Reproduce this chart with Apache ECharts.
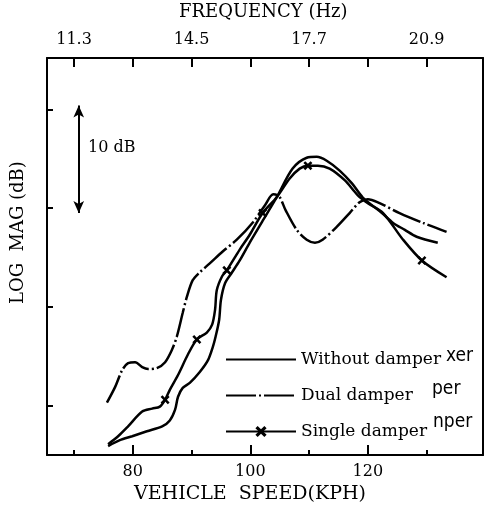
<!DOCTYPE html>
<html><head><meta charset="utf-8">
<script src="https://cdn.jsdelivr.net/npm/echarts@6/dist/echarts.min.js"></script>
<style>html,body{margin:0;padding:0;background:#fff}#c{width:489px;height:516px}</style>
</head><body><div id="c"></div>
<script>
// ---- data ----
const withoutSpeed = [75.8,77.8,79.9,82.4,85.0,86.3,87.2,87.7,88.5,89.7,91.4,92.8,93.6,94.1,94.7,95.0,95.7,96.9,98.2,99.9,102.0,104.5,107.2,109.6,111.3,113.0,115.2,117.3,119.1,120.7,122.4,124.3,126.3,128.3,131.9];
const withoutDb    = [5.9,6.5,6.9,7.4,7.9,8.5,9.6,10.9,11.8,12.3,13.4,14.6,15.9,17.0,18.7,20.7,22.4,23.5,24.7,26.5,28.6,31.1,34.0,35.1,35.2,34.8,33.8,32.5,31.1,30.3,29.5,28.5,27.8,27.1,26.5];

const dualSpeed = [75.6,77.0,78.2,79.2,80.4,81.6,82.6,84.1,85.5,86.7,87.5,88.5,89.2,90.2,91.4,93.1,95.3,97.7,100.5,102.5,103.9,104.9,106.0,107.9,109.6,111.0,112.3,114.7,116.9,118.6,120.0,122.0,125.4,129.4,133.4];
const dualDb    = [10.3,11.9,13.6,14.3,14.4,13.9,13.7,13.8,14.4,15.7,17.0,19.4,21.0,22.7,23.5,24.4,25.6,26.8,28.6,30.3,31.4,31.2,29.8,27.8,26.8,26.5,26.8,28.1,29.5,30.6,30.9,30.5,29.5,28.5,27.6];

const singleSpeed = [75.8,77.5,79.2,81.6,83.3,84.6,85.5,86.3,87.7,89.4,90.9,92.6,93.5,94.0,94.3,95.2,96.0,98.2,99.9,102.1,104.5,106.7,108.4,109.8,111.5,113.5,116.1,118.3,120.0,122.6,126.0,129.2,133.4];
const singleDb    = [6.1,6.9,7.9,9.4,9.7,9.9,10.6,11.6,13.1,15.2,16.7,17.4,18.2,19.7,21.7,23.1,23.7,25.8,27.3,29.5,31.1,33.0,34.0,34.3,34.3,34.0,32.8,31.3,30.5,29.5,26.8,24.7,23.0];
const singleMarkedAt = [85.5,90.9,96.0,102.1,109.8,129.2];

const speedMajorTicks  = [80,100,120];
const speedMinorTicks  = [70,90,110,130];
const freqTickValues   = [11.3,12.9,14.5,16.1,17.7,19.3,20.9];
const freqLabelValues  = [11.3,14.5,17.7,20.9];
const dbTickValues     = [10,20,30,40];
const seriesNames = ['Without damper','Dual damper','Single damper'];

// ---- chart ----
const SPEED_MIN = 65.4, SPEED_MAX = 139.6;
const hz = s => 11.3 + (s - 70) * 0.16;
const serif = 'DejaVu Serif';
const xPath = 'path://M0,2L2,0L5,3L8,0L10,2L7,5L10,8L8,10L5,7L2,10L0,8L3,5Z';

const pairs = (xs, ys) => xs.map((x, i) => [x, ys[i]]);
const singleData = singleSpeed.map((x, i) => singleMarkedAt.includes(x)
  ? { value: [x, singleDb[i]] }
  : { value: [x, singleDb[i]], symbol: 'none' });

const chart = echarts.init(document.getElementById('c'), null, { renderer: 'canvas' });
const axisLine = { show: true, onZero: false, lineStyle: { color: '#000', width: 2 } };
chart.setOption({
  animation: false,
  backgroundColor: '#fff',
  grid: { left: 47, right: 6, top: 58, bottom: 61, containLabel: false },
  xAxis: [
    { type: 'value', position: 'bottom', min: SPEED_MIN, max: SPEED_MAX,
      axisLine, splitLine: { show: false },
      axisTick: { show: true, inside: true, length: 10, lineStyle: { color: '#000', width: 2 }, customValues: speedMajorTicks },
      axisLabel: { show: true, customValues: speedMajorTicks, margin: 9, color: '#000', fontFamily: serif, fontSize: 16 } },
    { type: 'value', position: 'top', min: hz(SPEED_MIN), max: hz(SPEED_MAX),
      axisLine, splitLine: { show: false },
      axisTick: { show: true, inside: true, length: 9, lineStyle: { color: '#000', width: 2 }, customValues: freqTickValues },
      axisLabel: { show: true, customValues: freqLabelValues, margin: 10, color: '#000', fontFamily: serif, fontSize: 16,
        formatter: v => v.toFixed(1) } },
    { type: 'value', position: 'bottom', min: SPEED_MIN, max: SPEED_MAX,
      axisLine: { show: false }, splitLine: { show: false }, axisLabel: { show: false },
      axisTick: { show: true, inside: true, length: 5, lineStyle: { color: '#000', width: 2 }, customValues: speedMinorTicks } }
  ],
  yAxis: [
    { type: 'value', position: 'left', min: 5, max: 45.2, axisLine, splitLine: { show: false },
      axisLabel: { show: false },
      axisTick: { show: true, inside: true, length: 6, lineStyle: { color: '#000', width: 2 }, customValues: dbTickValues } },
    { type: 'value', position: 'right', min: 5, max: 45.2, axisLine, splitLine: { show: false },
      axisLabel: { show: false }, axisTick: { show: false } }
  ],
  legend: {
    orient: 'vertical', left: 220, top: 346, itemWidth: 70, itemHeight: 14, itemGap: 19,
    textStyle: { color: '#000', fontFamily: serif, fontSize: 17 },
    data: [
      { name: seriesNames[0], itemStyle: { opacity: 0 } },
      { name: seriesNames[1], itemStyle: { opacity: 0 } },
      { name: seriesNames[2] }
    ]
  },
  series: [
    { name: seriesNames[0], type: 'line', data: pairs(withoutSpeed, withoutDb), smooth: 0.3,
      symbol: 'none', lineStyle: { color: '#000', width: 2.5 }, itemStyle: { color: '#000' } },
    { name: seriesNames[1], type: 'line', data: pairs(dualSpeed, dualDb), smooth: 0.3,
      symbol: 'none', lineStyle: { color: '#000', width: 2.5, type: [30, 3, 2, 3] }, itemStyle: { color: '#000' },
      markLine: { silent: true, symbol: ['arrow', 'arrow'], symbolSize: [8, 12],
        lineStyle: { color: '#000', width: 2, type: 'solid' }, label: { show: false },
        data: [[{ coord: [70.8, 40.4] }, { coord: [70.8, 29.5] }]] } },
    { name: seriesNames[2], type: 'line', data: singleData, smooth: 0.3,
      symbol: xPath, symbolSize: 9, showAllSymbol: true,
      lineStyle: { color: '#000', width: 2.5 }, itemStyle: { color: '#000' } }
  ],
  graphic: [
    { type: 'text', x: 179, y: 3, style: { text: 'FREQUENCY (Hz)', font: '18px "DejaVu Serif"', fill: '#000' } },
    { type: 'text', x: 134, y: 485, style: { text: 'VEHICLE  SPEED(KPH)', font: '19px "DejaVu Serif"', fill: '#000' } },
    { type: 'text', x: 9, y: 304, rotation: Math.PI / 2, style: { text: 'LOG  MAG (dB)', font: '18px "DejaVu Serif"', fill: '#000' } },
    { type: 'text', x: 88, y: 140, style: { text: '10 dB', font: '16px "DejaVu Serif"', fill: '#000' } },
    { type: 'text', x: 446, y: 347, style: { text: 'xer', font: '19px "DejaVu Sans Condensed"', fill: '#000' } },
    { type: 'text', x: 432, y: 380, style: { text: 'per', font: '19px "DejaVu Sans Condensed"', fill: '#000' } },
    { type: 'text', x: 433, y: 413, style: { text: 'nper', font: '19px "DejaVu Sans Condensed"', fill: '#000' } }
  ]
});
</script></body></html>
